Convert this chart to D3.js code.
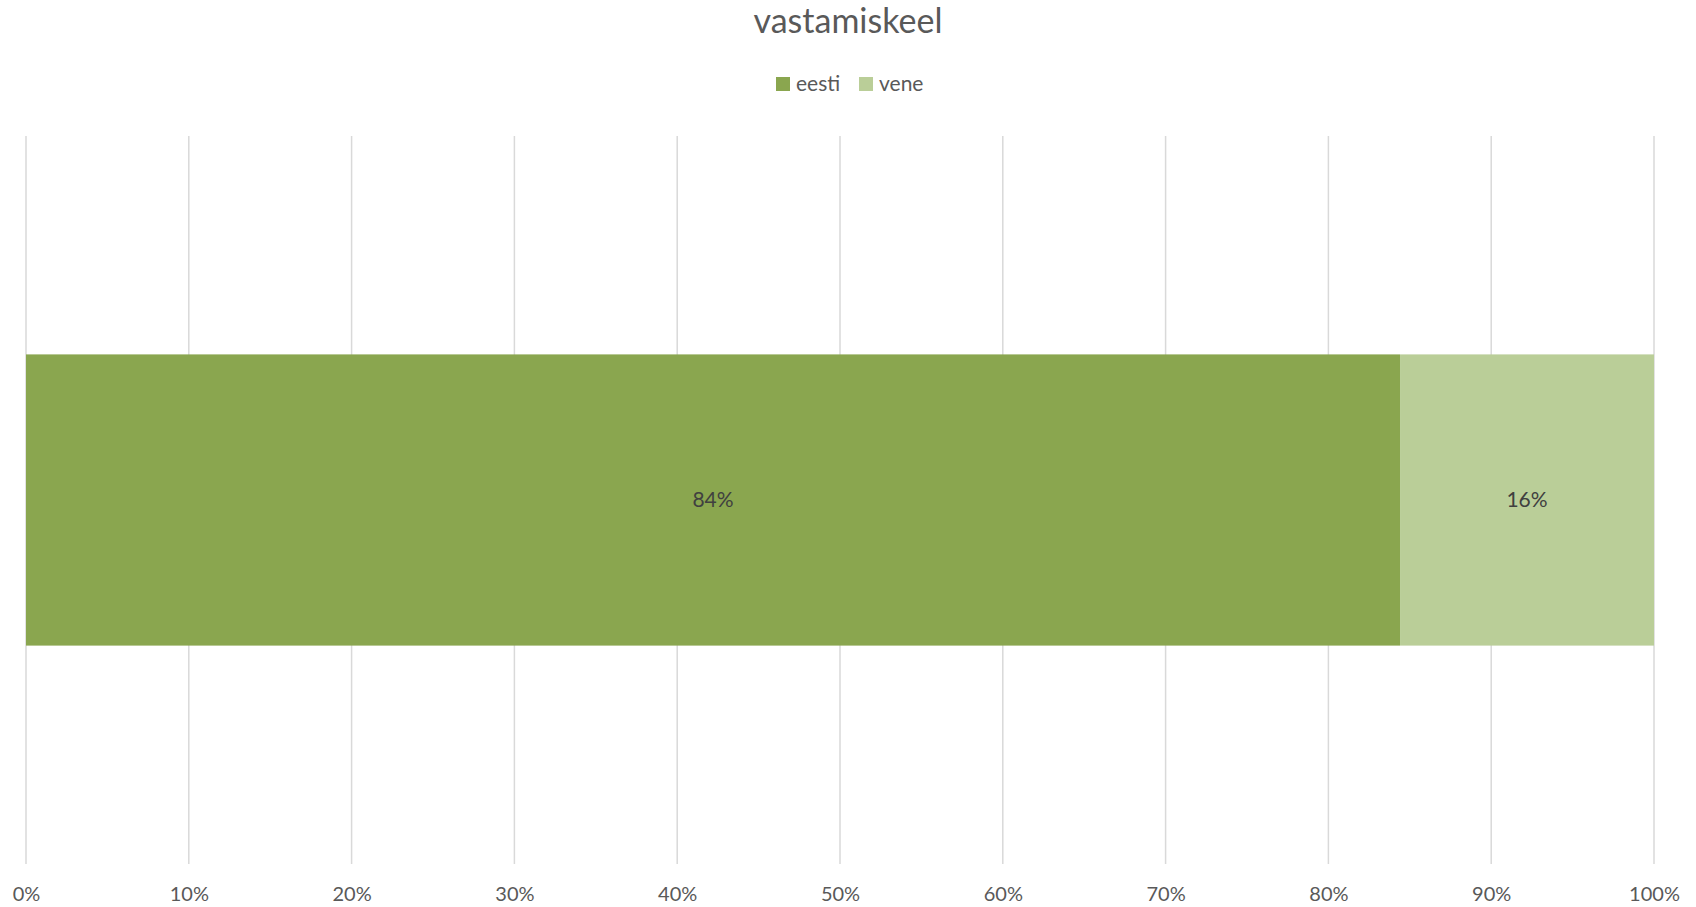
<!DOCTYPE html>
<html>
<head>
<meta charset="utf-8">
<script src="https://cdn.jsdelivr.net/npm/d3@7"></script>
<style>
  html, body { margin: 0; padding: 0; background: #fff; }
  svg { display: block; font-family: Lato, "Open Sans", sans-serif; }
</style>
</head>
<body>
<svg id="chart" width="1696" height="907"></svg>
<script>
// Chart data
const categories = ["vastamiskeel"];
const seriesNames = ["eesti", "vene"];
const eestiValues = [0.844];
const veneValues = [0.156];
const seriesColors = ["#8AA64F", "#BACE98"];
const tickValues = [0, 0.1, 0.2, 0.3, 0.4, 0.5, 0.6, 0.7, 0.8, 0.9, 1.0];
const titleText = "vastamiskeel";

const svg = d3.select("#chart");
const W = 1696, H = 907;
const margin = { left: 26, right: 42, top: 136, bottom: 43 };

const x = d3.scaleLinear().domain([0, 1]).range([margin.left, W - margin.right]);
const y = d3.scaleBand().domain(categories)
  .range([margin.top, H - margin.bottom])
  .paddingInner(0).paddingOuter(0.75);

// Gridlines
svg.append("g")
  .selectAll("line")
  .data(tickValues)
  .join("line")
  .attr("x1", d => x(d)).attr("x2", d => x(d))
  .attr("y1", margin.top).attr("y2", H - margin.bottom)
  .attr("stroke", "#D9D9D9")
  .attr("stroke-width", 1.5);

// Stacked rows
const rows = categories.map((c, i) => ({ cat: c, eesti: eestiValues[i], vene: veneValues[i] }));
const stacked = d3.stack().keys(seriesNames)(rows);

const layers = svg.append("g")
  .selectAll("g")
  .data(stacked)
  .join("g")
  .attr("fill", (d, i) => seriesColors[i]);

layers.selectAll("rect")
  .data(d => d)
  .join("rect")
  .attr("x", d => x(d[0]))
  .attr("width", d => x(d[1]) - x(d[0]))
  .attr("y", d => y(d.data.cat))
  .attr("height", y.bandwidth());

// Value labels
layers.selectAll("text")
  .data(d => d)
  .join("text")
  .attr("x", d => (x(d[0]) + x(d[1])) / 2)
  .attr("y", d => y(d.data.cat) + y.bandwidth() / 2)
  .attr("dy", "0.35em")
  .attr("text-anchor", "middle")
  .attr("fill", "#404040")
  .attr("font-size", 21)
  .text(d => d3.format(".0%")(d[1] - d[0]));

// Bottom axis labels
const axis = d3.axisBottom(x).tickValues(tickValues).tickFormat(d3.format(".0%")).tickSize(0).tickPadding(0);
const gx = svg.append("g")
  .attr("transform", `translate(0, ${H - margin.bottom + 23})`)
  .call(axis);
gx.select(".domain").remove();
gx.selectAll("text")
  .attr("fill", "#595959")
  .attr("font-size", 20)
  .attr("font-family", "Lato, sans-serif");

// Title
svg.append("text")
  .attr("x", W / 2)
  .attr("y", 33)
  .attr("text-anchor", "middle")
  .attr("fill", "#595959")
  .attr("font-size", 34)
  .text(titleText);

// Legend
const legend = svg.append("g");
const legendX = [776, 859];
seriesNames.forEach((name, i) => {
  const g = legend.append("g").attr("transform", `translate(${legendX[i]}, 77)`);
  g.append("rect").attr("width", 14).attr("height", 14).attr("fill", seriesColors[i]);
  g.append("text").attr("x", 20).attr("y", 14)
    .attr("fill", "#595959").attr("font-size", 21).text(name);
});
</script>
</body>
</html>
